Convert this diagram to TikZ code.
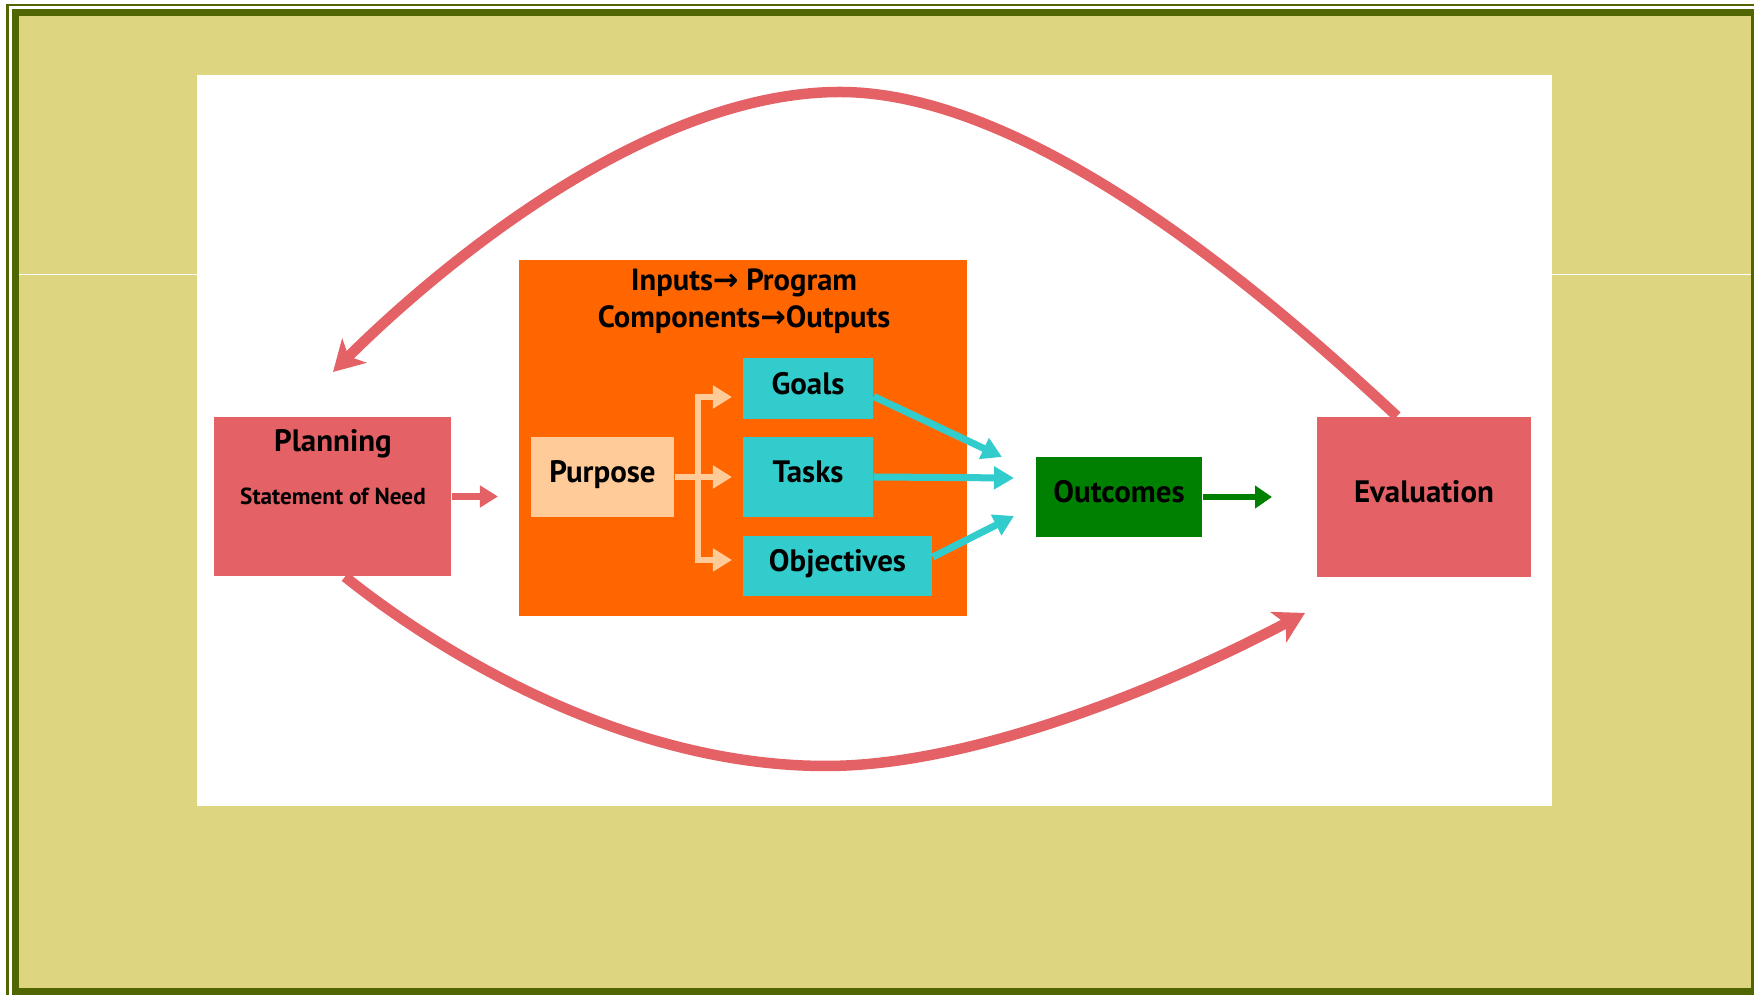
\documentclass[tikz,border=0pt]{standalone}
\usepackage{fontspec}
\setmainfont{PT Sans}
\newfontfamily\arrowfont{DejaVu Sans}
\usepackage{tikz}
\usetikzlibrary{arrows.meta}
\usepackage{xcolor}
\definecolor{khaki}{HTML}{DDD57F}
\definecolor{framegreen}{HTML}{506600}
\definecolor{salmon}{HTML}{E46266}
\definecolor{progorange}{HTML}{FF6600}
\definecolor{peach}{HTML}{FFCC99}
\definecolor{teal}{HTML}{33CCCC}
\definecolor{outgreen}{HTML}{008000}

\begin{document}
\begin{tikzpicture}[x=0.01cm,y=-0.01cm,
  box/.style={inner sep=0pt,text=black,text height=2.4mm,text depth=1.2mm,
    font=\bfseries\fontsize{8.8}{10}\selectfont},
  bigarc/.style={draw=salmon,line width=1.05mm,-{Stealth[length=3mm,width=3.4mm,inset=0.8mm]}},
  redarrow/.style={draw=salmon,line width=0.7mm,-{Triangle[length=1.8mm,width=2.1mm]}},
  peachline/.style={draw=peach,line width=0.65mm},
  peacharrow/.style={peachline,-{Triangle[length=1.9mm,width=2.2mm]}},
  tealarrow/.style={draw=teal,line width=0.7mm,-{Triangle[length=2mm,width=2.2mm]}},
  greenarrow/.style={draw=outgreen,line width=0.6mm,-{Triangle[length=1.7mm,width=2.2mm]}}]
\useasboundingbox (0,0) rectangle (1754,995);
% frame
\fill[white] (0,0) rectangle (1754,995);
\draw[framegreen,line width=0.6pt] (7.5,995) -- (7.5,5) -- (1754,5);
\fill[framegreen] (12,9) rectangle (1754,995);
\fill[khaki] (19,16) rectangle (1751,988);
\draw[white,line width=0.5pt] (19,274.5) -- (1751,274.5);
\fill[white] (197,75) rectangle (1552,806);

% boxes
\node (plan) [box,fill=salmon,minimum width=2.37cm,minimum height=1.59cm] at (332.5,496.5) {};
\node (plantitle) [box] at (333,446) {Planning};
\node (need) [box,font=\bfseries\fontsize{6.6}{8}\selectfont] at (333,499) {Statement of Need};
\node (prog) [box,fill=progorange,minimum width=4.48cm,minimum height=3.56cm] at (743,438) {};
\node (progtitle) [inner sep=0pt,align=center,font=\bfseries\fontsize{8.7}{10.4}\selectfont] at (744,301)
  {Inputs{\arrowfont\bfseries →} Program\\Components{\arrowfont\bfseries →}Outputs};
\node (purpose) [box,fill=peach,minimum width=1.43cm,minimum height=0.80cm] at (602.5,477) {Purpose};
\node (goals) [box,fill=teal,minimum width=1.30cm,minimum height=0.61cm] at (808,388.5) {Goals};
\node (tasks) [box,fill=teal,minimum width=1.30cm,minimum height=0.80cm] at (808,477) {Tasks};
\node (objectives) [box,fill=teal,minimum width=1.89cm,minimum height=0.60cm] at (837.5,566) {Objectives};
\node (outcomes) [box,fill=outgreen,minimum width=1.66cm,minimum height=0.80cm] at (1119,497) {Outcomes};
\node (eval) [box,fill=salmon,minimum width=2.14cm,minimum height=1.60cm] at (1424,497) {Evaluation};

% arrow ends
\coordinate (progin) at (498,496.5);
\coordinate (fork) at (698,477);
\coordinate (goalsin) at (732,397);
\coordinate (tasksin) at (732,477);
\coordinate (objin) at (732,560);
\coordinate (outin1) at (1002,457);
\coordinate (outin2) at (1014,478);
\coordinate (outin3) at (1014,516);
\coordinate (evalin) at (1272,497);
\coordinate (planback) at (333,372);
\coordinate (evalback) at (1305,613);

\draw[redarrow] (plan.east) -- (progin);
\draw[peachline] (purpose.east) -- (fork);
\draw[peacharrow] (fork) |- (goalsin);
\draw[peacharrow] (fork) -- (tasksin);
\draw[peacharrow] (fork) |- (objin);
\draw[tealarrow] ([yshift=-0.08cm]goals.east) -- (outin1);
\draw[tealarrow] (tasks.east) -- (outin2);
\draw[tealarrow] ([yshift=0.09cm]objectives.east) -- (outin3);
\draw[greenarrow] (outcomes.east) -- (evalin);
\draw[bigarc] ([xshift=-0.27cm]eval.north) .. controls (1288,315) and (1040,92) .. (840,92)
  .. controls (640,92) and (425,280) .. (planback);
\draw[bigarc] ([xshift=0.125cm]plan.south) .. controls (440,653) and (626,766) .. (826,766)
  .. controls (976,766) and (1173,683) .. (evalback);
\end{tikzpicture}
\end{document}
